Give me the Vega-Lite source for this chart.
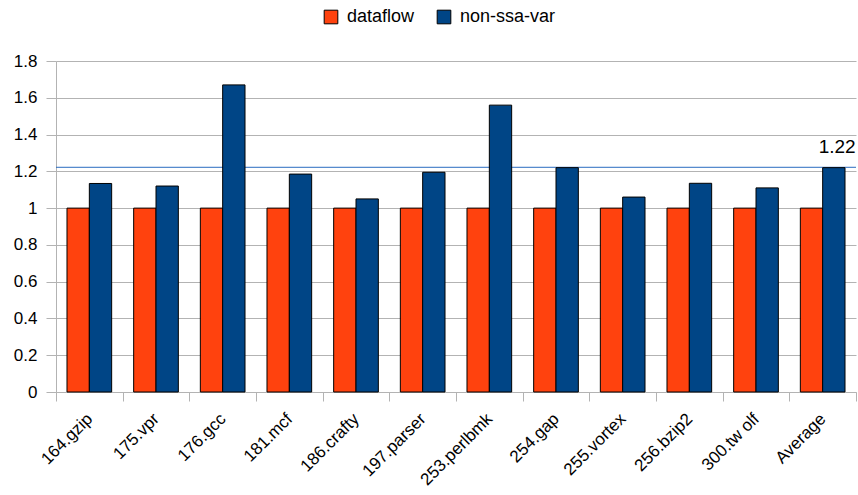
{
  "$schema": "https://vega.github.io/schema/vega-lite/v6.json",
  "width": 800,
  "height": 331,
  "autosize": {"type": "none"},
  "padding": {"left": 56, "top": 61, "right": 2, "bottom": 103},
  "config": {
    "font": "Liberation Sans",
    "view": {"stroke": null},
    "axis": {"labelColor": "#000", "titleColor": "#000"}
  },
  "datasets": {
    "bars": [
      {"cat": "164.gzip", "series": "dataflow", "value": 1},
      {"cat": "164.gzip", "series": "non-ssa-var", "value": 1.134},
      {"cat": "175.vpr", "series": "dataflow", "value": 1},
      {"cat": "175.vpr", "series": "non-ssa-var", "value": 1.12},
      {"cat": "176.gcc", "series": "dataflow", "value": 1},
      {"cat": "176.gcc", "series": "non-ssa-var", "value": 1.67},
      {"cat": "181.mcf", "series": "dataflow", "value": 1},
      {"cat": "181.mcf", "series": "non-ssa-var", "value": 1.185},
      {"cat": "186.crafty", "series": "dataflow", "value": 1},
      {"cat": "186.crafty", "series": "non-ssa-var", "value": 1.05},
      {"cat": "197.parser", "series": "dataflow", "value": 1},
      {"cat": "197.parser", "series": "non-ssa-var", "value": 1.195},
      {"cat": "253.perlbmk", "series": "dataflow", "value": 1},
      {"cat": "253.perlbmk", "series": "non-ssa-var", "value": 1.56},
      {"cat": "254.gap", "series": "dataflow", "value": 1},
      {"cat": "254.gap", "series": "non-ssa-var", "value": 1.22},
      {"cat": "255.vortex", "series": "dataflow", "value": 1},
      {"cat": "255.vortex", "series": "non-ssa-var", "value": 1.06},
      {"cat": "256.bzip2", "series": "dataflow", "value": 1},
      {"cat": "256.bzip2", "series": "non-ssa-var", "value": 1.135},
      {"cat": "300.tw olf", "series": "dataflow", "value": 1},
      {"cat": "300.tw olf", "series": "non-ssa-var", "value": 1.11},
      {"cat": "Average", "series": "dataflow", "value": 1},
      {"cat": "Average", "series": "non-ssa-var", "value": 1.22}
    ],
    "avg": [
      {"cat": "Average", "value": 1.222, "label": "1.22"}
    ]
  },
  "layer": [
    {
      "data": {"name": "avg"},
      "mark": {"type": "rule", "color": "#2a6cc0", "strokeWidth": 1},
      "encoding": {
        "y": {
          "field": "value", "type": "quantitative",
          "scale": {"domain": [0, 1.8]},
          "axis": {
            "title": null, "values": [0, 0.2, 0.4, 0.6, 0.8, 1, 1.2, 1.4, 1.6, 1.8],
            "format": "~g", "grid": true, "gridColor": "#b3b3b3", "domainColor": "#b3b3b3",
            "tickColor": "#b3b3b3", "tickSize": 10, "labelFontSize": 17, "labelPadding": 9,
            "labelOverlap": false
          }
        }
      }
    },
    {
      "data": {"name": "bars"},
      "mark": {"type": "bar", "stroke": "#000", "strokeWidth": 1},
      "encoding": {
        "x": {
          "field": "cat", "type": "nominal", "sort": null,
          "scale": {"paddingInner": 0, "paddingOuter": 0},
          "axis": {
            "title": null, "tickBand": "extent", "tickSize": 9, "tickColor": "#b3b3b3",
            "domainColor": "#b3b3b3", "labelAngle": -45, "labelAlign": "right",
            "labelBaseline": "middle", "labelFontSize": 17, "labelPadding": 15, "grid": false,
            "labelOverlap": false
          }
        },
        "xOffset": {
          "field": "series", "type": "nominal",
          "scale": {"paddingInner": 0, "paddingOuter": 0.4925}
        },
        "y": {
          "field": "value", "type": "quantitative",
          "scale": {"domain": [0, 1.8]},
          "axis": {
            "title": null, "values": [0, 0.2, 0.4, 0.6, 0.8, 1, 1.2, 1.4, 1.6, 1.8],
            "format": "~g", "grid": true, "gridColor": "#b3b3b3", "domainColor": "#b3b3b3",
            "tickColor": "#b3b3b3", "tickSize": 10, "labelFontSize": 17, "labelPadding": 9,
            "labelOverlap": false
          }
        },
        "color": {
          "field": "series", "type": "nominal",
          "scale": {"domain": ["dataflow", "non-ssa-var"], "range": ["#FF420E", "#004586"]},
          "legend": {
            "title": null, "orient": "none", "legendX": 266, "legendY": -53,
            "direction": "horizontal", "symbolType": "square", "symbolSize": 186,
            "symbolStrokeColor": "#000", "symbolStrokeWidth": 1, "labelFontSize": 18,
            "labelColor": "#000", "columnPadding": 20, "labelOffset": 7
          }
        }
      }
    },
    {
      "data": {"name": "avg"},
      "mark": {"type": "text", "align": "right", "baseline": "alphabetic", "fontSize": 19, "fontWeight": "normal", "dx": 33, "dy": -14, "color": "#000"},
      "encoding": {
        "x": {"field": "cat", "type": "nominal"},
        "y": {
          "field": "value", "type": "quantitative",
          "scale": {"domain": [0, 1.8]},
          "axis": {
            "title": null, "values": [0, 0.2, 0.4, 0.6, 0.8, 1, 1.2, 1.4, 1.6, 1.8],
            "format": "~g", "grid": true, "gridColor": "#b3b3b3", "domainColor": "#b3b3b3",
            "tickColor": "#b3b3b3", "tickSize": 10, "labelFontSize": 17, "labelPadding": 9,
            "labelOverlap": false
          }
        },
        "text": {"field": "label"}
      }
    }
  ]
}
